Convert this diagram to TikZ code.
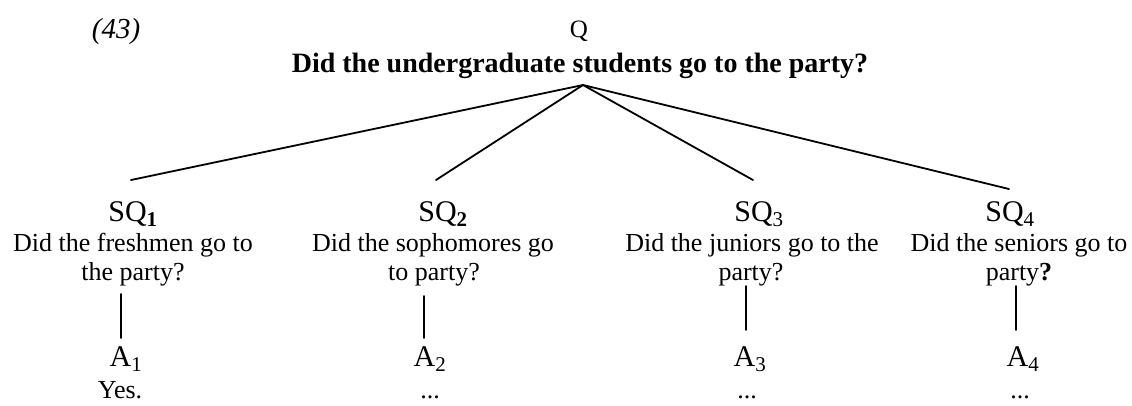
\documentclass[tikz,border=0pt]{standalone}
\usepackage{fontspec}
\setmainfont{Liberation Serif}
\tikzset{
  txt/.style={inner sep=0pt, anchor=base},
  body/.style={txt, font=\fontsize{26bp}{30bp}\selectfont},
  ttl/.style={txt, font=\fontsize{28bp}{32bp}\selectfont\bfseries},
  lab/.style={txt, font=\fontsize{30bp}{34bp}\selectfont},
  qlab/.style={txt, font=\fontsize{25bp}{29bp}\selectfont},
  exnum/.style={txt, font=\fontsize{29bp}{33bp}\selectfont\itshape},
  edge/.style={line width=1.8bp, line cap=round}
}
\begin{document}
\begin{tikzpicture}[x=1bp,y=-1bp]
\useasboundingbox (0,0) rectangle (1132,405);
% header
\node[exnum] (ex) at (116,38) {(43)};
\node[qlab] (q) at (579,37) {Q};
\node[ttl] (t) at (580,72) {Did the undergraduate students go to the party?};
\coordinate (apex) at (583,85);
% branch ends
\coordinate (e1) at (131,180);
\coordinate (e2) at (436,180);
\coordinate (e3) at (753,180);
\coordinate (e4) at (1009,189);
\draw[edge] (e1) -- (apex) -- (e4);
\draw[edge] (e2) -- (apex) -- (e3);
% sub-questions
\node[lab] (sq1) at (133,221) {SQ\textsubscript{\textbf{1}}};
\node[lab] (sq2) at (443,221) {SQ\textsubscript{\textbf{2}}};
\node[lab] (sq3) at (759,221) {SQ\textsubscript{3}};
\node[lab] (sq4) at (1010,221) {SQ\textsubscript{4}};
\node[body] (sq1a) at (133,251) {Did the freshmen go to};
\node[body] (sq1b) at (133,280) {the party?};
\node[body] (sq2a) at (433,251) {Did the sophomores go};
\node[body] (sq2b) at (434,280) {to party?};
\node[body] (sq3a) at (752,251) {Did the juniors go to the};
\node[body] (sq3b) at (751,280) {party?};
\node[body] (sq4a) at (1019,251) {Did the seniors go to};
\node[body] (sq4b) at (1019,280) {party\textbf{?}};
% vertical connectors
\coordinate (v1t) at (121,294); \coordinate (v1b) at (121,338);
\coordinate (v2t) at (424,296); \coordinate (v2b) at (424,338);
\coordinate (v3t) at (746,286); \coordinate (v3b) at (746,330);
\coordinate (v4t) at (1016,286); \coordinate (v4b) at (1016,330);
\draw[edge] (v1t) -- (v1b);
\draw[edge] (v2t) -- (v2b);
\draw[edge] (v3t) -- (v3b);
\draw[edge] (v4t) -- (v4b);
% answers
\node[lab] (a1) at (126,366) {A\textsubscript{1}};
\node[lab] (a2) at (430,366) {A\textsubscript{2}};
\node[lab] (a3) at (750,366) {A\textsubscript{3}};
\node[lab] (a4) at (1023,366) {A\textsubscript{4}};
\node[body] (r1) at (120,398) {Yes.};
\node[body] (r2) at (430,398) {...};
\node[body] (r3) at (747,398) {...};
\node[body] (r4) at (1020,398) {...};
\end{tikzpicture}
\end{document}
